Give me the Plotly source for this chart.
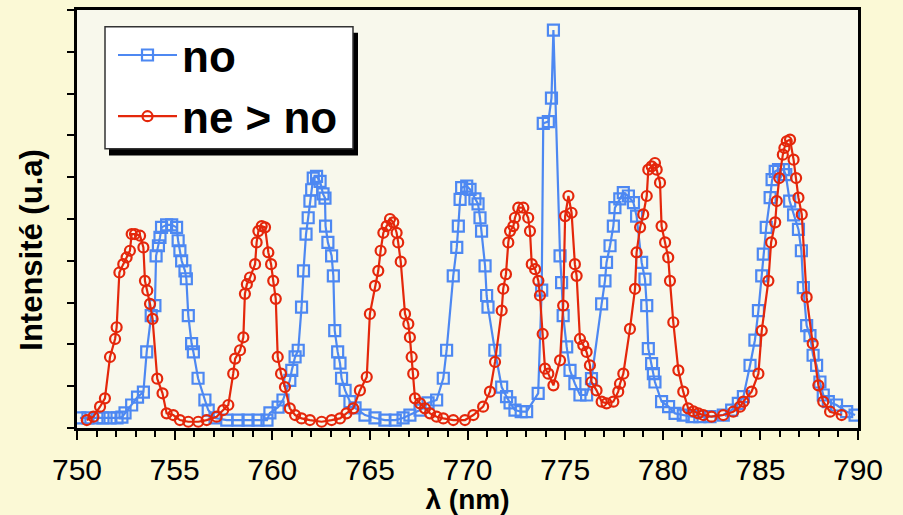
import plotly.graph_objects as go

# wavelength (nm) / intensity (a.u.) for "no"
blue_nm = [750.15, 750.56, 751.02, 751.33, 751.69, 752.05, 752.3, 752.46, 752.8, 753.1, 753.4, 753.57,
           753.8, 753.99, 754.05, 754.17, 754.25, 754.33, 754.59, 754.85, 755.1, 755.18, 755.27, 755.36,
           755.53, 755.6, 755.7, 755.87, 755.96, 756.2, 756.55, 756.72, 757.07, 757.67, 758.25, 758.76,
           759.27, 759.73, 759.88, 760.3, 760.55, 760.9, 761.0, 761.17, 761.33, 761.5, 761.6, 761.73,
           761.84, 761.93, 762.02, 762.1, 762.27, 762.45, 762.6, 762.7, 762.73, 762.85, 763.04, 763.13,
           763.2, 763.35, 763.47, 763.55, 763.73, 763.98, 764.24, 764.75, 765.26, 765.77, 766.3, 766.7,
           767.05, 767.57, 767.98, 768.42, 768.76, 768.93, 769.27, 769.45, 769.53, 769.62, 769.7, 769.96,
           770.13, 770.38, 770.54, 770.64, 770.72, 770.9, 770.98, 771.05, 771.4, 771.75, 772.0, 772.18,
           772.43, 772.75, 773.03, 773.62, 773.8, 773.88, 774.14, 774.3, 774.4, 774.74, 774.82, 774.9,
           775.08, 775.25, 775.5, 775.76, 776.1, 776.35, 776.87, 777.04, 777.12, 777.3, 777.47, 777.55,
           777.8, 777.98, 778.24, 778.5, 778.66, 778.92, 779.09, 779.18, 779.26, 779.43, 779.52, 779.6,
           779.94, 780.3, 780.63, 781.05, 781.5, 781.9, 782.42, 783.1, 783.53, 783.87, 784.13, 784.47,
           784.72, 784.9, 785.07, 785.15, 785.3, 785.5, 785.6, 785.76, 785.93, 786.18, 786.3, 786.5,
           786.7, 786.95, 787.1, 787.2, 787.37, 787.54, 787.7, 787.88, 788.05, 788.22, 788.48, 788.9,
           789.42, 789.85]
blue_int = [0.24, 0.24, 0.24, 0.24, 0.24, 0.24, 0.26, 0.36, 0.55, 0.74, 0.86, 1.82,
            2.69, 2.93, 4.12, 4.36, 4.56, 4.8, 4.86, 4.86, 4.8, 4.48, 4.24, 4.0,
            3.76, 3.57, 2.69, 2.02, 1.82, 1.19, 0.67, 0.43, 0.24, 0.19, 0.19, 0.19,
            0.19, 0.19, 0.36, 0.5, 0.67, 1.14, 1.38, 1.7, 1.86, 2.89, 3.76, 4.64,
            5.03, 5.43, 5.7, 5.98, 6.02, 5.9, 5.6, 5.5, 4.83, 4.44, 4.12, 3.64,
            2.33, 1.82, 1.55, 1.19, 0.9, 0.63, 0.48, 0.31, 0.24, 0.19, 0.19, 0.24,
            0.31, 0.43, 0.6, 0.67, 1.19, 1.86, 3.64, 4.32, 4.83, 5.47, 5.75, 5.79,
            5.71, 5.48, 5.36, 5.03, 4.71, 3.88, 3.17, 2.89, 1.86, 0.98, 0.75, 0.6,
            0.43, 0.39, 0.39, 0.83, 3.3, 7.29, 7.33, 7.89, 9.52, 4.12, 3.48, 2.69,
            1.94, 1.38, 1.06, 0.79, 0.79, 1.18, 2.97, 3.52, 3.96, 4.36, 4.83, 5.27,
            5.48, 5.63, 5.55, 5.39, 5.07, 3.96, 3.56, 2.93, 1.9, 1.54, 1.3, 1.1,
            0.63, 0.51, 0.35, 0.31, 0.27, 0.27, 0.27, 0.31, 0.43, 0.59, 0.75, 1.5,
            2.1, 2.81, 3.64, 4.16, 4.8, 5.51, 5.94, 6.14, 6.18, 6.18, 6.06, 5.43,
            5.1, 4.75, 4.24, 3.36, 2.45, 2.21, 1.74, 1.5, 1.1, 0.79, 0.63, 0.55,
            0.39, 0.31]

# wavelength (nm) / intensity (a.u.) for "ne > no"
red_nm = [750.5, 750.84, 751.18, 751.43, 751.69, 751.95, 752.03, 752.17, 752.37, 752.54, 752.71, 752.8,
          752.97, 753.23, 753.4, 753.48, 753.6, 753.74, 753.87, 754.11, 754.38, 754.59, 754.93, 755.27,
          755.7, 756.21, 756.64, 757.15, 757.49, 757.75, 758.0, 758.1, 758.35, 758.52, 758.6, 758.7,
          758.86, 759.12, 759.2, 759.29, 759.46, 759.63, 759.8, 759.94, 760.05, 760.18, 760.28, 760.45,
          760.65, 760.9, 761.17, 761.5, 761.93, 762.53, 763.04, 763.47, 763.8, 764.15, 764.49, 764.84,
          765.0, 765.26, 765.43, 765.55, 765.69, 765.86, 766.03, 766.2, 766.37, 766.45, 766.58, 766.8,
          766.97, 767.05, 767.14, 767.22, 767.31, 767.57, 767.82, 768.08, 768.42, 768.76, 769.27, 769.87,
          770.3, 770.8, 771.15, 771.41, 771.75, 771.83, 771.97, 772.09, 772.18, 772.35, 772.43, 772.6,
          772.86, 773.11, 773.2, 773.29, 773.46, 773.63, 773.71, 773.85, 773.97, 774.14, 774.4, 774.74,
          774.9, 775.0, 775.17, 775.33, 775.5, 775.59, 775.76, 775.93, 776.1, 776.27, 776.35, 776.61,
          776.87, 777.12, 777.47, 777.72, 777.81, 777.98, 778.32, 778.58, 778.66, 778.84, 779.0, 779.18,
          779.26, 779.43, 779.6, 779.69, 779.86, 779.94, 780.12, 780.28, 780.37, 780.54, 780.8, 781.05,
          781.3, 781.57, 781.82, 782.08, 782.5, 783.1, 783.61, 783.96, 784.13, 784.55, 784.9, 785.07,
          785.41, 785.55, 785.76, 785.84, 785.97, 786.15, 786.23, 786.35, 786.52, 786.7, 786.83, 786.95,
          787.12, 787.37, 787.68, 787.97, 788.22, 788.57, 789.16]
red_int = [0.19, 0.27, 0.51, 0.71, 1.7, 2.13, 2.41, 3.72, 3.92, 4.08, 4.24, 4.64,
           4.64, 4.6, 4.32, 3.52, 3.29, 2.97, 2.61, 1.18, 0.83, 0.35, 0.31, 0.19,
           0.15, 0.15, 0.19, 0.27, 0.43, 0.55, 1.3, 1.66, 1.86, 2.17, 3.21, 3.44,
           3.6, 3.92, 4.44, 4.71, 4.83, 4.8, 4.2, 3.92, 3.52, 3.09, 1.7, 1.3,
           0.98, 0.47, 0.31, 0.23, 0.19, 0.15, 0.19, 0.23, 0.35, 0.47, 0.9, 1.22,
           2.73, 3.4, 3.76, 4.24, 4.67, 4.83, 5.0, 4.92, 4.67, 4.44, 3.98, 2.73,
           2.49, 2.17, 1.7, 1.3, 0.71, 0.59, 0.47, 0.35, 0.27, 0.23, 0.19, 0.19,
           0.31, 0.51, 0.87, 1.58, 2.81, 3.33, 3.68, 4.44, 4.71, 4.83, 5.03, 5.27,
           5.27, 5.03, 4.71, 3.92, 3.8, 3.52, 3.17, 2.25, 1.42, 1.3, 1.02, 1.62,
           2.93, 5.07, 5.55, 5.15, 3.92, 3.64, 2.13, 1.98, 1.82, 1.5, 1.1, 0.9,
           0.63, 0.59, 0.63, 0.87, 1.06, 1.3, 2.37, 3.33, 4.2, 4.8, 5.11, 5.55,
           6.18, 6.26, 6.34, 6.18, 5.87, 4.83, 4.44, 4.08, 3.52, 2.53, 1.38, 0.87,
           0.47, 0.4, 0.35, 0.31, 0.27, 0.31, 0.39, 0.51, 0.63, 0.87, 1.3, 2.33,
           3.52, 4.44, 4.92, 5.43, 5.98, 6.54, 6.7, 6.86, 6.9, 6.42, 5.98, 5.51,
           5.11, 3.13, 2.02, 1.02, 0.63, 0.39, 0.31]

x_ticks = [750, 755, 760, 765, 770, 775, 780, 785, 790]

BLUE = "#4d88f2"
RED = "#e4270b"
PAPER = "#fbf9d6"
FONT = "Liberation Sans, Arial, sans-serif"

W, H = 903, 515
ML, MR, MT, MB = 77, 45, 7, 86
PW, PH = W - ML - MR, H - MT - MB


def px(xp):
    return (xp - ML) / PW


def py(yp):
    return (H - MB - yp) / PH


fig = go.Figure()
fig.add_trace(go.Scatter(
    x=blue_nm, y=blue_int, mode="lines+markers", name="no", legendgroup="a",
    line=dict(color=BLUE, width=2.2),
    marker=dict(symbol="square-open", size=11, color=BLUE, line=dict(width=2.2, color=BLUE)),
))
fig.add_trace(go.Scatter(
    x=red_nm, y=red_int, mode="lines+markers", name="ne > no", legendgroup="b",
    line=dict(color=RED, width=2.2),
    marker=dict(symbol="circle-open", size=10, color=RED, line=dict(width=2.2, color=RED)),
))

fig.update_layout(
    width=W, height=H,
    margin=dict(l=ML, r=MR, t=MT, b=MB),
    paper_bgcolor=PAPER,
    plot_bgcolor="#f8f8ec",
    font=dict(family=FONT, color="black"),
    showlegend=True,
    legend=dict(
        x=px(113), y=py(17), xanchor="left", yanchor="top",
        bgcolor="rgba(0,0,0,0)", borderwidth=0,
        font=dict(size=44, weight="bold", family=FONT),
        itemwidth=59, tracegroupgap=1,
    ),
    xaxis=dict(
        range=[750, 790], tickvals=x_ticks, ticktext=[str(v) for v in x_ticks],
        ticks="outside", ticklen=9, tickwidth=2, tickcolor="black",
        minor=dict(dtick=1, tick0=750, ticks="outside", ticklen=6, tickwidth=2, tickcolor="black"),
        showline=True, linewidth=3, linecolor="black", mirror=True,
        showgrid=False, zeroline=False,
        tickfont=dict(size=30, family=FONT), ticklabelstandoff=4,
        title=dict(text="λ (nm)", font=dict(size=28, weight="bold", family=FONT), standoff=2),
    ),
    yaxis=dict(
        range=[0, 10], dtick=1, tick0=0,
        ticks="outside", ticklen=7, tickwidth=2, tickcolor="black",
        showticklabels=False,
        showline=True, linewidth=3, linecolor="black", mirror=True,
        showgrid=False, zeroline=False,
    ),
    shapes=[
        dict(type="rect", xref="paper", yref="paper", layer="above",
             x0=px(109), x1=px(358), y0=py(154), y1=py(30),
             fillcolor="black", line=dict(width=0)),
        dict(type="rect", xref="paper", yref="paper", layer="above",
             x0=px(105), x1=px(353), y0=py(147), y1=py(24),
             fillcolor="white", line=dict(width=1.5, color="#333333")),
    ],
    annotations=[
        dict(text="Intensité (u.a)", xref="paper", yref="paper",
             x=px(32), y=py(249), xanchor="center", yanchor="middle",
             textangle=-90, showarrow=False,
             font=dict(size=31, weight="bold", family=FONT)),
    ],
)

fig.write_html(
    "out.html",
    config={"displayModeBar": False},
    post_script="document.body.style.margin='0';document.body.style.background='" + PAPER + "';",
)
